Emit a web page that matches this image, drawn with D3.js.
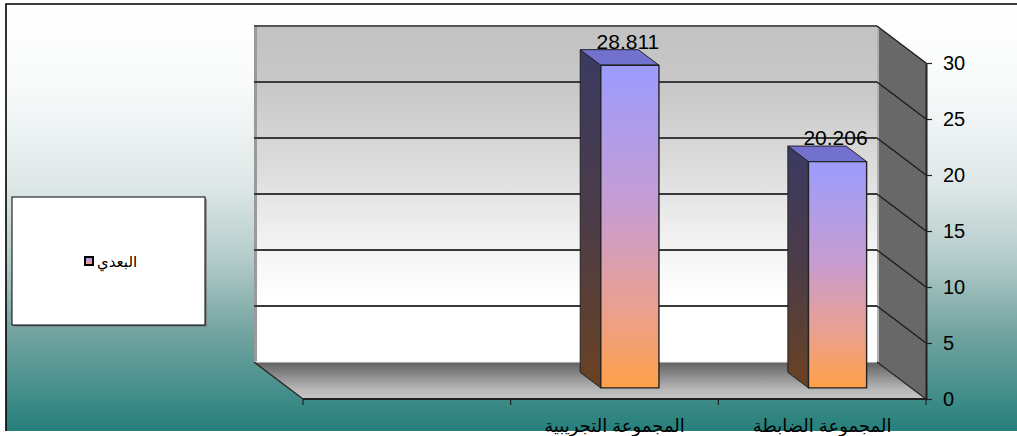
<!DOCTYPE html>
<html>
<head>
<meta charset="utf-8">
<script src="https://cdn.jsdelivr.net/npm/d3@7"></script>
<style>
  html, body { margin: 0; padding: 0; background: #ffffff; }
  svg { display: block; }
</style>
</head>
<body>
<svg id="chart" width="1017" height="436"></svg>
<script>
// Series data
const categories = ["", "المجموعة التجريبية", "المجموعة الضابطة"];
const seriesName = "البعدي";
const values = [null, 28.811, 20.206];
const valueLabels = ["", "28.811", "20.206"];
const yTicks = [0, 5, 10, 15, 20, 25, 30];

const svg = d3.select("#chart");
const defs = svg.append("defs");

const W = 1017, H = 431;
const FONT = "'Liberation Sans', Arial, 'DejaVu Sans', sans-serif";

// Gradients
function linGrad(id, stops, x2 = "0", y2 = "1") {
  const g = defs.append("linearGradient").attr("id", id)
    .attr("x1", "0").attr("y1", "0").attr("x2", x2).attr("y2", y2);
  stops.forEach(([o, c]) => g.append("stop").attr("offset", o).attr("stop-color", c));
}
linGrad("bgGrad", [[0, "#ffffff"], [0.2, "#f8fafa"], [0.42, "#dfe8e8"], [0.6, "#b3cbca"], [0.76, "#76a5a2"], [1, "#26807c"]]);
linGrad("wallGrad", [[0, "#c2c2c2"], [0.2, "#c9c9c9"], [0.45, "#dfdfdf"], [0.65, "#f3f3f3"], [0.82, "#ffffff"], [1, "#ffffff"]]);
linGrad("floorGrad", [[0, "#606060"], [0.35, "#8a8a8a"], [0.75, "#b8b8b8"], [1, "#c8c8c8"]]);
linGrad("frontGrad", [[0, "#9c9cff"], [0.45, "#c89cd0"], [0.75, "#eaa090"], [1, "#ffa048"]]);
linGrad("sideGrad", [[0, "#3a3a62"], [0.5, "#4c3c48"], [1, "#6a4222"]]);

// Chart area background and frame
svg.append("rect").attr("x", 6).attr("y", 4).attr("width", W - 6).attr("height", H - 4)
  .attr("fill", "url(#bgGrad)");
svg.append("path").attr("d", `M6,${H} L6,4 L${W},4`)
  .attr("fill", "none").attr("stroke", "#000").attr("stroke-width", 1.6);

// Scales: front plane of the 3-D box
const x = d3.scaleBand().domain(d3.range(categories.length)).range([303, 926]).padding(0);
const y = d3.scaleLinear().domain([0, 30]).range([399, 63]);
const DX = -49, DY = -37; // depth vector (front -> back)
const proj = (px, v, d) => [px + DX * d, y(v) + DY * d];
const poly = pts => "M" + pts.map(p => p.join(",")).join("L") + "Z";

const x0 = x.range()[0], x1 = x.range()[1];
const vMax = y.domain()[1];

// Back wall
svg.append("path")
  .attr("d", poly([proj(x0, vMax, 1), proj(x1, vMax, 1), proj(x1, 0, 1), proj(x0, 0, 1)]))
  .attr("fill", "url(#wallGrad)");
// left edge stripe of the wall
svg.append("line")
  .attr("x1", proj(x0, vMax, 1)[0] + 1.5).attr("y1", proj(x0, vMax, 1)[1])
  .attr("x2", proj(x0, 0, 1)[0] + 1.5).attr("y2", proj(x0, 0, 1)[1])
  .attr("stroke", "#9a9a9a").attr("stroke-width", 3);

// Right side wall
svg.append("path")
  .attr("d", poly([proj(x1, vMax, 1), proj(x1, vMax, 0), proj(x1, 0, 0), proj(x1, 0, 1)]))
  .attr("fill", "#686868");
svg.append("line")
  .attr("x1", proj(x1, vMax, 1)[0] + 1).attr("y1", proj(x1, vMax, 1)[1])
  .attr("x2", proj(x1, 0, 1)[0] + 1).attr("y2", proj(x1, 0, 1)[1])
  .attr("stroke", "#b0b0b0").attr("stroke-width", 2);

// Gridlines on back wall and side wall
const grid = svg.append("g");
yTicks.filter(v => v > 0).forEach(v => {
  const a = proj(x0, v, 1), b = proj(x1, v, 1), c = proj(x1, v, 0);
  grid.append("line").attr("x1", a[0]).attr("y1", a[1]).attr("x2", b[0]).attr("y2", b[1])
    .attr("stroke", v === vMax ? "#555" : "#3a3a3a").attr("stroke-width", 2);
  grid.append("line").attr("x1", b[0]).attr("y1", b[1]).attr("x2", c[0]).attr("y2", c[1])
    .attr("stroke", "#1a1a1a").attr("stroke-width", 1.3);
});

// Floor
svg.append("path")
  .attr("d", poly([proj(x0, 0, 1), proj(x1, 0, 1), proj(x1, 0, 0), proj(x0, 0, 0)]))
  .attr("fill", "url(#floorGrad)");
svg.append("line")
  .attr("x1", proj(x0, 0, 1)[0]).attr("y1", proj(x0, 0, 1)[1])
  .attr("x2", proj(x1, 0, 1)[0]).attr("y2", proj(x1, 0, 1)[1])
  .attr("stroke", "#f4f4f4").attr("stroke-width", 1);
[[proj(x0, 0, 1), proj(x0, 0, 0)], [proj(x1, 0, 1), proj(x1, 0, 0)]].forEach(([a, b]) => {
  svg.append("line").attr("x1", a[0]).attr("y1", a[1]).attr("x2", b[0]).attr("y2", b[1])
    .attr("stroke", "#2a2a2a").attr("stroke-width", 1.5);
});

// Bars
const D0 = 0.3, D1 = 0.72;
const bw = x.bandwidth();
const bars = svg.append("g");
values.forEach((v, i) => {
  if (v == null) return;
  const xl = x(i) + bw / 2 + 1;
  const xr = xl + bw * 0.28;
  const g = bars.append("g").attr("stroke", "#222").attr("stroke-width", 1).attr("stroke-linejoin", "round");
  g.append("path").attr("d", poly([proj(xl, v, D1), proj(xl, v, D0), proj(xl, 0, D0), proj(xl, 0, D1)]))
    .attr("fill", "url(#sideGrad)");
  g.append("path").attr("d", poly([proj(xl, v, D1), proj(xr, v, D1), proj(xr, v, D0), proj(xl, v, D0)]))
    .attr("fill", "#7272ce");
  g.append("path").attr("d", poly([proj(xl, v, D0), proj(xr, v, D0), proj(xr, 0, D0), proj(xl, 0, D0)]))
    .attr("fill", "url(#frontGrad)").attr("stroke-width", 1.4);

  const top = proj((xl + xr) / 2, v, D1);
  svg.append("text")
    .attr("x", proj((xl + xr) / 2, v, D0)[0] - 2)
    .attr("y", top[1] - 1)
    .attr("text-anchor", "middle")
    .attr("font-family", FONT).attr("font-size", 21).attr("fill", "#000")
    .text(valueLabels[i]);
});

// Category axis (front edge of the floor)
const axisB = svg.append("g");
axisB.append("line").attr("x1", x0).attr("y1", y(0)).attr("x2", x1).attr("y2", y(0))
  .attr("stroke", "#222").attr("stroke-width", 2);
d3.range(categories.length + 1).forEach(k => {
  const px = x0 + k * bw;
  axisB.append("line").attr("x1", px).attr("y1", y(0)).attr("x2", px).attr("y2", y(0) + 6)
    .attr("stroke", "#222").attr("stroke-width", 1.2);
});
categories.forEach((c, i) => {
  if (!c) return;
  axisB.append("text")
    .attr("x", x(i) + bw / 2).attr("y", y(0) + 33)
    .attr("text-anchor", "middle")
    .attr("font-family", FONT).attr("font-size", 18).attr("fill", "#000")
    .text(c);
});

// Value axis on the right
const axisR = svg.append("g").attr("transform", `translate(${x1},0)`)
  .call(d3.axisRight(y).tickValues(yTicks).tickSize(6).tickSizeOuter(0).tickPadding(11));
axisR.select(".domain").attr("stroke", "#222").attr("stroke-width", 2);
axisR.selectAll(".tick line").attr("stroke", "#222").attr("stroke-width", 1.2);
axisR.selectAll(".tick text").attr("font-family", FONT).attr("font-size", 20).attr("fill", "#000");

// Legend
const leg = svg.append("g");
leg.append("rect").attr("x", 14).attr("y", 199).attr("width", 193).attr("height", 128)
  .attr("fill", "#6c6c6c").attr("opacity", 0.6);
leg.append("rect").attr("x", 12).attr("y", 197).attr("width", 193).attr("height", 128)
  .attr("fill", "#ffffff").attr("stroke", "#000").attr("stroke-width", 1);
leg.append("rect").attr("x", 85).attr("y", 257).attr("width", 8).attr("height", 8)
  .attr("fill", "url(#frontGrad)").attr("stroke", "#000").attr("stroke-width", 2);
leg.append("text").attr("x", 97).attr("y", 267)
  .attr("font-family", FONT).attr("font-size", 15).attr("fill", "#000")
  .text(seriesName);
</script>
</body>
</html>
